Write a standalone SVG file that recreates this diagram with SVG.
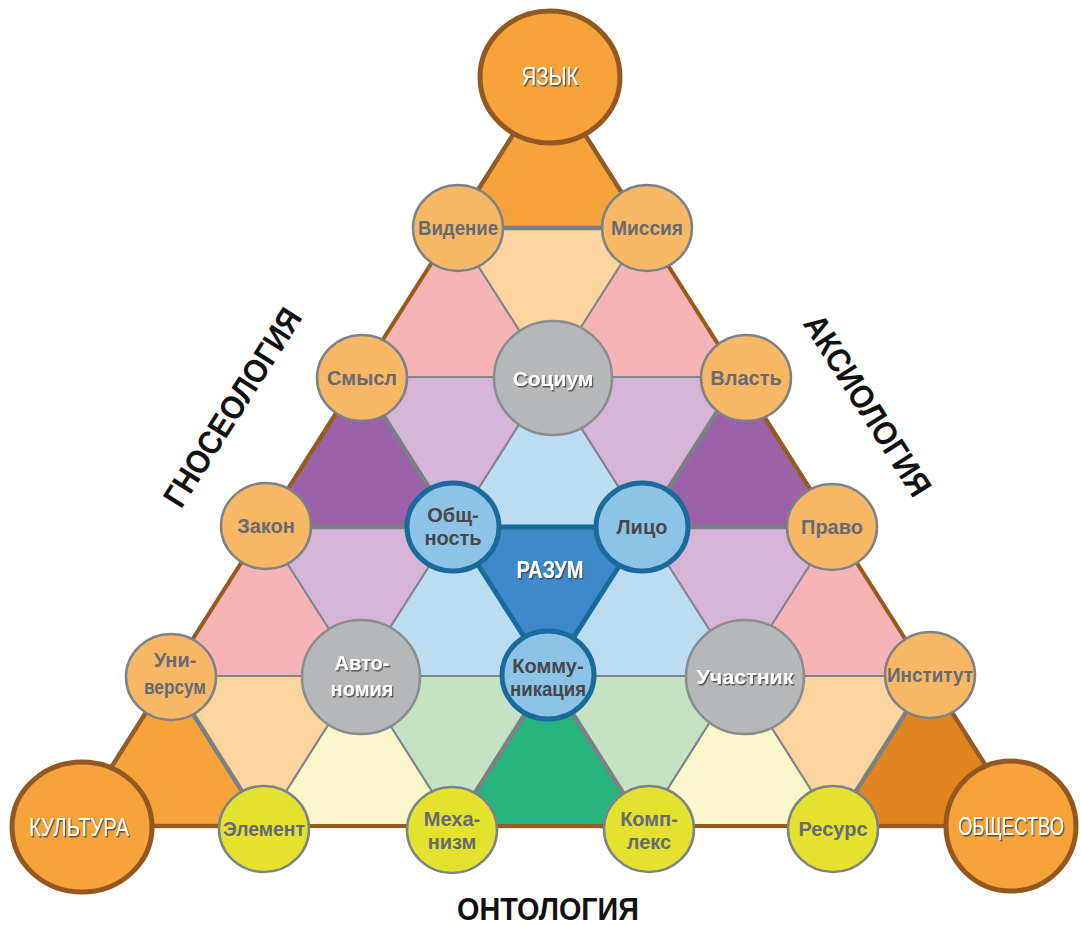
<svg xmlns="http://www.w3.org/2000/svg" width="1081" height="925" viewBox="0 0 1081 925">
<defs>
<filter id="sh" x="-4%" y="-20%" width="110%" height="150%">
<feDropShadow dx="1.2" dy="1.5" stdDeviation="0.7" flood-color="#4a4a4a" flood-opacity="0.9"/>
</filter>
</defs>
<style>
.tri{stroke:#80858b;stroke-width:2;stroke-linejoin:round}
.thick{fill:none;stroke:#7b8086;stroke-width:4.5;stroke-linejoin:round}
.or{fill:#f5a33a}.pk{fill:#f7b4b7}.pe{fill:#fcd49e}.pu{fill:#9b61a9}.lb{fill:#bcdcf2}
.lv{fill:#d5b4d7}.db{fill:#3d89ca}.ly{fill:#f9f6c9}.gr{fill:#26b47e}.lg{fill:#c5e3c2}.do{fill:#e0841f}
.cor{fill:#f5a33a;stroke:#93571f;stroke-width:5}
.on{fill:#f8b765;stroke:#7d8288;stroke-width:2.5}
.gy{fill:#b5b7b9;stroke:#8a8d90;stroke-width:2.5}
.bl{fill:#8ec3e8;stroke:#1b6a9c;stroke-width:5}
.ye{fill:#e4e22f;stroke:#7d8288;stroke-width:2.5}
text{font-family:"Liberation Sans",Arial,sans-serif;text-anchor:middle}
.t1{font-size:20px;font-weight:bold;fill:#676b71}
.t2{font-size:20px;font-weight:bold;fill:#46484b}
.tw{font-size:21px;font-weight:bold;fill:#fff;filter:url(#sh)}
.tc{font-size:25px;fill:#fff;filter:url(#sh)}
.big{font-size:33px;font-weight:bold;fill:#111}
</style>

<g id="grid">
<polygon class="tri or" points="549,78 454,228 644,228"/>
<polygon class="tri pk" points="454,228 359,377 549,377"/>
<polygon class="tri pk" points="644,228 549,377 739,377"/>
<polygon class="tri pe" points="454,228 644,228 549,377"/>
<polygon class="tri pu" points="359,377 264,527 454,527"/>
<polygon class="tri lb" points="549,377 454,527 644,527"/>
<polygon class="tri pu" points="739,377 644,527 834,527"/>
<polygon class="tri lv" points="359,377 549,377 454,527"/>
<polygon class="tri lv" points="549,377 739,377 644,527"/>
<polygon class="tri pk" points="264,527 169,676 359,676"/>
<polygon class="tri lb" points="454,527 359,676 549,676"/>
<polygon class="tri lb" points="644,527 549,676 739,676"/>
<polygon class="tri pk" points="834,527 739,676 929,676"/>
<polygon class="tri lv" points="264,527 454,527 359,676"/>
<polygon class="tri db" points="454,527 644,527 549,676"/>
<polygon class="tri lv" points="644,527 834,527 739,676"/>
<polygon class="tri or" points="169,676 74,826 264,826"/>
<polygon class="tri ly" points="359,676 264,826 454,826"/>
<polygon class="tri gr" points="549,676 454,826 644,826"/>
<polygon class="tri ly" points="739,676 644,826 834,826"/>
<polygon class="tri do" points="929,676 834,826 1024,826"/>
<polygon class="tri pe" points="169,676 359,676 264,826"/>
<polygon class="tri lg" points="359,676 549,676 454,826"/>
<polygon class="tri lg" points="549,676 739,676 644,826"/>
<polygon class="tri pe" points="739,676 929,676 834,826"/>
</g>

<g id="connectors">
<polygon class="thick" points="549,78 454,228 644,228"/>
<polygon class="thick" points="359,377 264,527 454,527"/>
<polygon class="thick" points="739,377 644,527 834,527"/>
<polygon class="thick" points="169,676 74,826 264,826"/>
<polygon class="thick" points="549,676 454,826 644,826"/>
<polygon class="thick" points="929,676 834,826 1024,826"/>
<polygon points="454,527 644,527 549,676" fill="none" stroke="#1b6a9c" stroke-width="5" stroke-linejoin="round"/>
<polygon points="549,78 74,826 1024,826" fill="none" stroke="#9a5a1c" stroke-width="4" stroke-linejoin="round"/>
</g>

<g id="razum"><text class="tc" x="550" y="578" style="font-weight:bold;font-size:23px" textLength="67" lengthAdjust="spacingAndGlyphs">РАЗУМ</text></g>

<g id="yazyk"><ellipse class="cor" cx="550" cy="77" rx="70" ry="66"/><text class="tc" x="550" y="85" textLength="57" lengthAdjust="spacingAndGlyphs">ЯЗЫК</text></g>
<g id="kultura"><ellipse class="cor" cx="82" cy="827" rx="70" ry="65"/><text class="tc" x="79" y="836" textLength="100" lengthAdjust="spacingAndGlyphs">КУЛЬТУРА</text></g>
<g id="obshchestvo"><ellipse class="cor" cx="1011" cy="826" rx="65" ry="65"/><text class="tc" x="1011" y="835" textLength="106" lengthAdjust="spacingAndGlyphs">ОБЩЕСТВО</text></g>

<g id="videnie"><ellipse class="on" cx="458" cy="228" rx="45" ry="43"/><text class="t1" x="458" y="235" textLength="80" lengthAdjust="spacingAndGlyphs">Видение</text></g>
<g id="missiya"><ellipse class="on" cx="647" cy="228" rx="45" ry="43"/><text class="t1" x="647" y="235" textLength="72" lengthAdjust="spacingAndGlyphs">Миссия</text></g>
<g id="smysl"><ellipse class="on" cx="362" cy="378" rx="45" ry="43"/><text class="t1" x="362" y="385">Смысл</text></g>
<g id="vlast"><ellipse class="on" cx="746" cy="378" rx="45" ry="43"/><text class="t1" x="746" y="385">Власть</text></g>
<g id="zakon"><ellipse class="on" cx="266" cy="526" rx="45" ry="43"/><text class="t1" x="266" y="533">Закон</text></g>
<g id="pravo"><ellipse class="on" cx="832" cy="527" rx="45" ry="43"/><text class="t1" x="832" y="534">Право</text></g>
<g id="universum"><ellipse class="on" cx="171" cy="677" rx="45" ry="43"/><text class="t1" x="175" y="667">Уни-</text><text class="t1" x="175" y="694" textLength="62" lengthAdjust="spacingAndGlyphs">версум</text></g>
<g id="institut"><ellipse class="on" cx="930" cy="675" rx="45" ry="43"/><text class="t1" x="930" y="682" textLength="86" lengthAdjust="spacingAndGlyphs">Институт</text></g>

<g id="socium"><ellipse class="gy" cx="553" cy="378" rx="59" ry="57"/><text class="tw" x="553" y="386">Социум</text></g>
<g id="avtonomiya"><ellipse class="gy" cx="361" cy="677" rx="59" ry="57"/><text class="tw" x="362" y="670" style="font-size:20px">Авто-</text><text class="tw" x="362" y="696" style="font-size:20px">номия</text></g>
<g id="uchastnik"><ellipse class="gy" cx="745" cy="677" rx="59" ry="57"/><text class="tw" x="745" y="684" textLength="97" lengthAdjust="spacingAndGlyphs">Участник</text></g>

<g id="obshchnost"><ellipse class="bl" cx="453" cy="527" rx="46" ry="44"/><text class="t2" x="453" y="522">Общ-</text><text class="t2" x="453" y="545">ность</text></g>
<g id="lico"><ellipse class="bl" cx="642" cy="527" rx="46" ry="44"/><text class="t2" x="642" y="534">Лицо</text></g>
<g id="kommunikaciya"><ellipse class="bl" cx="548" cy="675" rx="46" ry="44"/><text class="t2" x="548" y="673">Комму-</text><text class="t2" x="548" y="696" textLength="76" lengthAdjust="spacingAndGlyphs">никация</text></g>

<g id="element"><ellipse class="ye" cx="264" cy="829" rx="45" ry="43"/><text class="t1" x="264" y="836" textLength="82" lengthAdjust="spacingAndGlyphs">Элемент</text></g>
<g id="mekhanizm"><ellipse class="ye" cx="452" cy="830" rx="45" ry="43"/><text class="t1" x="452" y="826">Меха-</text><text class="t1" x="452" y="849">низм</text></g>
<g id="kompleks"><ellipse class="ye" cx="649" cy="829" rx="45" ry="43"/><text class="t1" x="649" y="826">Комп-</text><text class="t1" x="649" y="849">лекс</text></g>
<g id="resurs"><ellipse class="ye" cx="833" cy="829" rx="45" ry="43"/><text class="t1" x="833" y="836">Ресурс</text></g>

<g id="labels">
<text class="big" transform="translate(232,407) rotate(-57.6)" x="0" y="12" textLength="228" lengthAdjust="spacingAndGlyphs">ГНОСЕОЛОГИЯ</text>
<text class="big" transform="translate(868,405) rotate(57.6)" x="0" y="12" textLength="208" lengthAdjust="spacingAndGlyphs">АКСИОЛОГИЯ</text>
<text class="big" x="548" y="920" style="font-size:31px" textLength="182" lengthAdjust="spacingAndGlyphs">ОНТОЛОГИЯ</text>
</g>
</svg>
